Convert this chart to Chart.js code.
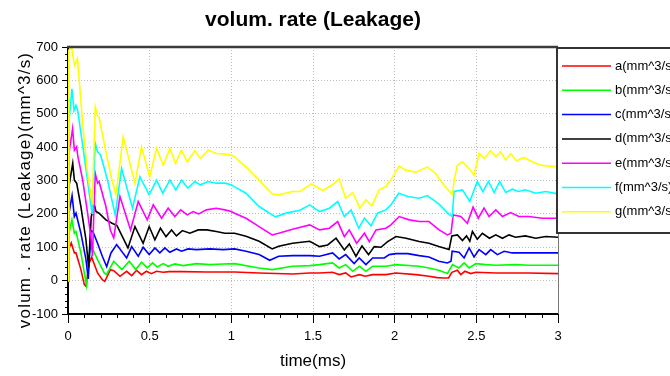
<!DOCTYPE html>
<html>
<head>
<meta charset="utf-8">
<title>volum. rate (Leakage)</title>
<script src="https://cdn.jsdelivr.net/npm/chart.js@4"></script>
<style>
  html, body { margin: 0; padding: 0; background: #fff; }
</style>
</head>
<body>
<canvas id="myChart" width="670" height="376"></canvas>
<script>
// textos del grafico
const titulo = 'volum. rate (Leakage)';
const tituloX = 'time(ms)';
const tituloY = 'volum . rate (Leakage)(mm^3/s)';
const etiquetas = ['a(mm^3/s)', 'b(mm^3/s)', 'c(mm^3/s)', 'd(mm^3/s)', 'e(mm^3/s)', 'f(mm^3/s)', 'g(mm^3/s)'];

// ticks de los ejes
const ticksX = [0, 0.5, 1, 1.5, 2, 2.5, 3];
const etiquetasX = ['0', '0.5', '1', '1.5', '2', '2.5', '3'];
const ticksY = [-100, 0, 100, 200, 300, 400, 500, 600, 700];
const etiquetasY = ['-100', '0', '100', '200', '300', '400', '500', '600', '700'];

// series: [tiempo (ms), valor (mm^3/s)]
const serieA = [[0,0],[0.005,95],[0.02,113],[0.039,83],[0.049,83],[0.079,33],[0.10,-12],[0.11,-17],[0.13,53],[0.145,70],[0.181,23],[0.21,3],[0.225,-2],[0.26,33],[0.28,30],[0.318,13],[0.359,28],[0.39,15],[0.42,31],[0.45,18],[0.48,28],[0.51,21],[0.542,28],[0.583,25],[0.62,27],[0.70,27],[0.85,26],[1.02,26],[1.17,23],[1.375,20],[1.48,23],[1.54,23],[1.62,25],[1.66,18],[1.70,23],[1.733,11],[1.784,18],[1.82,13],[1.865,18],[1.946,18],[2.008,23],[2.13,18],[2.21,13],[2.26,9],[2.30,8],[2.33,8],[2.35,25],[2.384,31],[2.405,18],[2.43,28],[2.466,21],[2.497,25],[2.62,23],[2.82,23],[3.0,21]];
const serieB = [[0,0],[0.005,140],[0.024,182],[0.039,142],[0.049,147],[0.079,83],[0.10,23],[0.114,-15],[0.134,93],[0.148,98],[0.181,63],[0.222,23],[0.235,18],[0.28,58],[0.33,33],[0.375,58],[0.415,33],[0.45,55],[0.485,38],[0.518,53],[0.546,41],[0.583,51],[0.613,43],[0.654,50],[0.705,45],[0.786,51],[0.868,48],[0.95,50],[1.02,51],[1.17,38],[1.25,33],[1.375,43],[1.48,45],[1.54,48],[1.62,53],[1.66,38],[1.70,48],[1.743,28],[1.784,43],[1.824,28],[1.865,43],[1.946,43],[2.008,48],[2.15,43],[2.21,38],[2.27,31],[2.323,21],[2.354,48],[2.394,38],[2.425,53],[2.456,38],[2.497,51],[2.558,48],[2.62,46],[2.74,48],[2.82,46],[3.0,46]];
const serieC = [[0,0],[0.005,200],[0.025,255],[0.039,192],[0.049,202],[0.079,142],[0.11,63],[0.124,5],[0.14,150],[0.153,146],[0.181,112],[0.21,73],[0.237,42],[0.263,83],[0.298,108],[0.359,68],[0.39,102],[0.43,73],[0.46,100],[0.497,78],[0.532,98],[0.562,83],[0.593,98],[0.623,85],[0.664,95],[0.695,88],[0.735,95],[0.786,93],[0.868,95],[0.95,93],[1.02,95],[1.09,88],[1.17,78],[1.235,61],[1.29,73],[1.375,75],[1.48,75],[1.54,73],[1.62,83],[1.66,65],[1.70,78],[1.752,51],[1.783,68],[1.824,48],[1.865,68],[1.936,68],[1.967,78],[2.008,81],[2.08,81],[2.15,75],[2.21,71],[2.27,58],[2.323,53],[2.345,58],[2.352,88],[2.394,85],[2.425,68],[2.456,98],[2.486,71],[2.517,93],[2.558,78],[2.588,93],[2.629,78],[2.67,88],[2.72,83],[2.82,83],[3.0,83]];
const serieD = [[0,0],[0.005,280],[0.029,351],[0.039,301],[0.053,292],[0.079,222],[0.11,122],[0.126,40],[0.142,190],[0.16,230],[0.171,207],[0.19,202],[0.232,182],[0.27,172],[0.30,165],[0.33,135],[0.367,98],[0.41,162],[0.46,112],[0.497,162],[0.532,122],[0.566,157],[0.60,132],[0.634,152],[0.664,134],[0.70,150],[0.746,142],[0.797,152],[0.85,152],[0.908,147],[0.96,142],[1.02,142],[1.09,133],[1.17,118],[1.25,95],[1.29,103],[1.375,112],[1.48,118],[1.54,102],[1.59,107],[1.641,127],[1.692,92],[1.722,110],[1.763,73],[1.80,104],[1.84,78],[1.875,102],[1.916,100],[1.957,117],[2.008,132],[2.07,127],[2.15,117],[2.21,112],[2.27,102],[2.333,93],[2.35,134],[2.384,137],[2.415,120],[2.44,134],[2.46,118],[2.476,147],[2.506,124],[2.537,142],[2.58,127],[2.619,137],[2.66,127],[2.70,137],[2.74,130],[2.80,134],[2.864,127],[2.925,132],[3.0,130]];
const serieE = [[0,0],[0.005,380],[0.028,455],[0.039,391],[0.053,401],[0.059,376],[0.09,301],[0.12,202],[0.14,132],[0.15,73],[0.158,200],[0.167,321],[0.181,292],[0.19,297],[0.232,222],[0.26,150],[0.28,128],[0.318,252],[0.383,152],[0.43,237],[0.485,182],[0.522,227],[0.573,187],[0.613,217],[0.654,192],[0.69,212],[0.73,197],[0.766,207],[0.80,200],[0.847,212],[0.908,217],[0.96,212],[1.0,207],[1.02,202],[1.09,187],[1.17,162],[1.25,137],[1.29,142],[1.375,154],[1.48,167],[1.54,152],[1.60,157],[1.651,177],[1.692,132],[1.722,152],[1.767,112],[1.815,142],[1.845,117],[1.886,152],[1.946,157],[1.977,167],[2.028,192],[2.09,182],[2.15,177],[2.21,177],[2.272,152],[2.323,137],[2.345,142],[2.358,197],[2.405,192],[2.445,172],[2.48,220],[2.512,187],[2.547,217],[2.578,192],[2.619,212],[2.66,192],[2.71,204],[2.76,192],[2.82,192],[2.904,187],[3.0,187]];
const serieF = [[0,0],[0.005,470],[0.024,575],[0.037,510],[0.049,525],[0.059,510],[0.10,371],[0.13,262],[0.147,202],[0.152,260],[0.167,411],[0.181,386],[0.20,376],[0.242,301],[0.273,232],[0.289,197],[0.328,336],[0.395,217],[0.44,311],[0.497,257],[0.542,301],[0.58,262],[0.624,301],[0.66,272],[0.695,301],[0.735,277],[0.776,297],[0.811,287],[0.858,297],[0.909,292],[0.96,292],[1.0,287],[1.02,281],[1.09,262],[1.17,222],[1.27,191],[1.34,203],[1.42,211],[1.48,227],[1.54,207],[1.60,217],[1.651,237],[1.692,192],[1.733,212],[1.78,157],[1.815,187],[1.855,164],[1.895,202],[1.946,212],[1.977,227],[2.025,262],[2.08,252],[2.15,247],[2.20,255],[2.27,230],[2.33,200],[2.352,192],[2.364,267],[2.415,272],[2.46,237],[2.506,297],[2.54,267],[2.574,297],[2.609,264],[2.643,297],[2.68,264],[2.72,274],[2.758,267],[2.80,272],[2.864,262],[2.925,267],[3.0,260]];
const serieG = [[0,0],[0.005,690],[0.022,700],[0.04,645],[0.058,665],[0.09,470],[0.12,320],[0.148,230],[0.153,300],[0.167,520],[0.18,495],[0.19,490],[0.23,390],[0.27,300],[0.293,258],[0.338,431],[0.41,292],[0.45,401],[0.50,311],[0.542,396],[0.583,346],[0.624,396],[0.658,351],[0.695,391],[0.73,356],[0.776,389],[0.811,366],[0.858,391],[0.909,381],[0.96,379],[1.0,376],[1.02,371],[1.09,341],[1.17,301],[1.25,260],[1.29,257],[1.375,267],[1.42,267],[1.49,290],[1.56,270],[1.62,288],[1.66,305],[1.70,247],[1.743,264],[1.787,217],[1.824,242],[1.86,224],[1.905,272],[1.946,282],[1.977,302],[2.028,343],[2.068,331],[2.13,325],[2.20,341],[2.25,321],[2.30,287],[2.354,257],[2.364,301],[2.384,346],[2.415,356],[2.456,336],[2.486,316],[2.517,381],[2.547,366],[2.588,389],[2.619,371],[2.649,386],[2.68,361],[2.71,381],[2.745,359],[2.79,369],[2.843,356],[2.894,346],[2.945,343],[3.0,341]];

const colores = ['#ff0000', '#00ff00', '#0000ff', '#000000', '#ff00ff', '#00ffff', '#ffff00'];
const fuente = '"Liberation Sans", Arial, sans-serif';

Chart.defaults.font.family = fuente;
Chart.defaults.color = '#000';

function crearDatos() {
    const series = [serieA, serieB, serieC, serieD, serieE, serieF, serieG];
    const datasets = etiquetas.map((label, i) => ({
        label,
        data: series[i].map(([x, y]) => ({x, y})),
        borderColor: colores[i],
        borderWidth: 1.6,
        pointRadius: 0,
        tension: 0,
        fill: false,
        order: series.length - i   // la g queda encima
    }));
    return { datasets };
}

// marco superior, ticks menores, leyenda con caja y titulo del eje Y
const extras = {
    id: 'extras',
    afterDraw(chart) {
        const ctx = chart.ctx;
        const area = chart.chartArea;
        const sx = chart.scales.x;
        const sy = chart.scales.y;
        ctx.save();

        // borde superior y derecho
        ctx.strokeStyle = '#3c3c3c';
        ctx.lineWidth = 2.5;
        ctx.beginPath();
        ctx.moveTo(area.left - 1, area.top);
        ctx.lineTo(area.right, area.top);
        ctx.stroke();
        ctx.lineWidth = 1;
        ctx.strokeStyle = '#777';
        ctx.beginPath();
        ctx.moveTo(area.right + 0.5, area.top);
        ctx.lineTo(area.right + 0.5, area.bottom);
        ctx.stroke();

        // ticks menores
        ctx.strokeStyle = '#000';
        ctx.lineWidth = 1;
        ctx.beginPath();
        for (let i = 1; i < 30; i++) {
            if (i % 5 === 0) continue;
            const px = Math.round(sx.getPixelForValue(i / 10)) + 0.5;
            ctx.moveTo(px, area.bottom);
            ctx.lineTo(px, area.bottom + 4);
        }
        for (let v = -80; v < 700; v += 20) {
            if (v % 100 === 0) continue;
            const py = Math.round(sy.getPixelForValue(v)) + 0.5;
            ctx.moveTo(area.left, py);
            ctx.lineTo(area.left - 3, py);
        }
        ctx.stroke();

        // leyenda
        const lx = 557, ly = 48, lh = 185;
        ctx.fillStyle = '#fff';
        ctx.fillRect(lx, ly, 120, lh);
        ctx.strokeStyle = '#333';
        ctx.lineWidth = 2;
        ctx.strokeRect(lx, ly, 120, lh);
        ctx.font = '13px ' + fuente;
        ctx.textBaseline = 'middle';
        ctx.textAlign = 'left';
        chart.data.datasets.forEach((ds, i) => {
            const y = 66 + i * 24.3;
            ctx.strokeStyle = ds.borderColor;
            ctx.lineWidth = 1.5;
            ctx.beginPath();
            ctx.moveTo(562, y);
            ctx.lineTo(611, y);
            ctx.stroke();
            ctx.fillStyle = '#000';
            ctx.fillText(ds.label, 615, y);
        });

        // titulo del eje Y
        ctx.translate(25, 190);
        ctx.rotate(-Math.PI / 2);
        ctx.font = '17px ' + fuente;
        ctx.textAlign = 'center';
        ctx.textBaseline = 'middle';
        if ('letterSpacing' in ctx) ctx.letterSpacing = '1.2px';
        ctx.fillStyle = '#000';
        ctx.fillText(tituloY, 0, 0);
        ctx.restore();
    }
};

function renderGrafica() {
    const canvas = document.querySelector('#myChart');
    const config = {
        type: 'line',
        data: crearDatos(),
        options: {
            responsive: false,
            animation: false,
            layout: { padding: { left: 0, right: 112, top: 0, bottom: 0 } },
            plugins: {
                legend: { display: false },
                tooltip: { enabled: false },
                title: {
                    display: true,
                    text: titulo,
                    fullSize: false,
                    color: '#000',
                    font: { size: 21, weight: 'bold' },
                    padding: { top: 8, bottom: 13.8 }
                }
            },
            scales: {
                x: {
                    type: 'linear',
                    min: 0,
                    max: 3,
                    afterFit: s => { s.height = 62; },
                    afterBuildTicks: s => { s.ticks = ticksX.map(v => ({ value: v })); },
                    ticks: {
                        callback: (v, i) => etiquetasX[i],
                        font: { size: 13 },
                        color: '#000',
                        padding: 6,
                        maxRotation: 0,
                        autoSkip: false
                    },
                    grid: {
                        color: c => (c.tick && c.tick.value > 0 && c.tick.value < 3) ? '#bdbdbd' : 'transparent',
                        tickColor: '#000',
                        tickLength: 9,
                        tickWidth: 1,
                        lineWidth: 1
                    },
                    border: { color: '#000', width: 2, dash: [1, 2] },
                    title: {
                        display: true,
                        text: tituloX,
                        color: '#000',
                        font: { size: 17 },
                        padding: { top: 0, bottom: 4 }
                    }
                },
                y: {
                    type: 'linear',
                    min: -100,
                    max: 700,
                    afterFit: s => { s.width = 68; },
                    afterBuildTicks: s => { s.ticks = ticksY.map(v => ({ value: v })); },
                    ticks: {
                        callback: (v, i) => etiquetasY[i],
                        font: { size: 13 },
                        color: '#000',
                        padding: 4,
                        autoSkip: false
                    },
                    grid: {
                        color: c => (c.tick && c.tick.value > -100 && c.tick.value < 700) ? '#bdbdbd' : 'transparent',
                        tickColor: '#000',
                        tickLength: 6,
                        tickWidth: 1,
                        lineWidth: 1
                    },
                    border: { color: '#000', width: 2, dash: [1, 2] }
                }
            }
        },
        plugins: [extras]
    };
    return new Chart(canvas, config);
}

renderGrafica();
</script>
</body>
</html>
